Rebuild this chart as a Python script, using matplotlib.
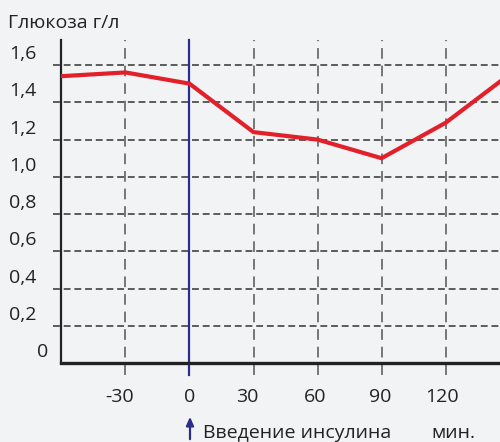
import matplotlib
matplotlib.use("Agg")
import matplotlib.pyplot as plt
from matplotlib import transforms

# ---- data ----
time_min = [-60, -30, 0, 30, 60, 90, 120, 150]
glucose = [1.54, 1.56, 1.50, 1.24, 1.20, 1.10, 1.29, 1.55]
x_ticks = [-30, 0, 30, 60, 90, 120]
x_labels = ["-30", "0", "30", "60", "90", "120"]
y_ticks = [0.2, 0.4, 0.6, 0.8, 1.0, 1.2, 1.4, 1.6]
y_labels = ["0", "0,2", "0,4", "0,6", "0,8", "1,0", "1,2", "1,4", "1,6"]
y_label_values = [0.0, 0.2, 0.4, 0.6, 0.8, 1.0, 1.2, 1.4, 1.6]
title_text = "Глюкоза г/л"
injection_text = "Введение инсулина"
unit_text = "мин."
injection_time = 0

plt.rcParams['font.family'] = ['Open Sans', 'DejaVu Sans']
BG = "#f2f3f5"
FS = 14
TXT = "#222222"

fig = plt.figure(figsize=(5.0, 4.42), dpi=100, facecolor=BG)
ax = fig.add_axes([0.122, 0.178, 0.878, 0.7315])
ax.set_facecolor(BG)
XMIN, XMAX = -60.2, 145.5
YMIN, YMAX = 0.0, 1.734
ax.set_xlim(XMIN, XMAX)
ax.set_ylim(YMIN, YMAX)

for s in ["top", "right"]:
    ax.spines[s].set_visible(False)
ax.spines["left"].set_color("#222222")
ax.spines["left"].set_linewidth(1.6)
ax.spines["bottom"].set_color("#222222")
ax.spines["bottom"].set_linewidth(2.4)
ax.set_xticks([])
ax.set_yticks([])

# horizontal dashed grid (extends a bit left of the axis)
for yv in y_ticks:
    ax.plot([XMIN - 3.8, XMAX], [yv, yv], color="#333333", lw=1.1,
            dashes=(4.5, 2.5), clip_on=False, zorder=1)

# vertical dashed grid (extends below the axis)
for xv in x_ticks:
    if xv == injection_time:
        continue
    ax.plot([xv, xv], [-0.064, YMAX], color="#555555", lw=1.1,
            dashes=(7, 4.5), clip_on=False, zorder=1)

# injection line
ax.plot([injection_time, injection_time], [-0.064, YMAX], color="#2b2d8e",
        lw=1.6, clip_on=False, zorder=2)

# glucose curve
ax.plot(time_min, glucose, color="#e3202a", lw=3.0, solid_joinstyle="miter",
        zorder=3, clip_on=True)

# y labels (shifted up relative to grid lines)
off = transforms.offset_copy(ax.transData, fig=fig, x=0, y=11, units="dots")
ytr = transforms.blended_transform_factory(fig.transFigure, off)
for val, lab in zip(y_label_values, y_labels):
    if lab == "0":
        fig.text(43 / 500, val, lab, fontsize=FS, color=TXT, ha="center",
                 va="center", transform=ytr)
    else:
        fig.text(9 / 500, val, lab, fontsize=FS, color=TXT, ha="left",
                 va="center", transform=ytr)

# x labels
xlab_dx = [-6, 0, -6, -2, -1, -4]
xlab_dy = [0, 0, 0, -1, -2, 2]
for xv, lab, dx, dy in zip(x_ticks, x_labels, xlab_dx, xlab_dy):
    tr = transforms.offset_copy(ax.transData, fig=fig, x=dx, y=dy, units="dots")
    tr = transforms.blended_transform_factory(tr, fig.transFigure)
    fig.text(xv, (442 - 397) / 442, lab, fontsize=FS, color=TXT,
             ha="center", va="center", transform=tr)

# title
fig.text(8 / 500, (442 - 23) / 442, title_text, fontsize=FS, color=TXT,
         ha="left", va="center")

# arrow and caption
fig.patches.append(matplotlib.patches.FancyArrowPatch(
    (190 / 500, 0.0), (190 / 500, (442 - 414) / 442),
    transform=fig.transFigure, arrowstyle="-|>,head_length=5,head_width=2.2",
    color="#2b2d8e", lw=1.6, mutation_scale=1))
fig.text(203 / 500, (442 - 433) / 442, injection_text, fontsize=FS,
         color=TXT, ha="left", va="center")
fig.text(431 / 500, (442 - 433) / 442, unit_text, fontsize=FS,
         color=TXT, ha="left", va="center")

fig.savefig("out.png", dpi=100, facecolor=BG)
